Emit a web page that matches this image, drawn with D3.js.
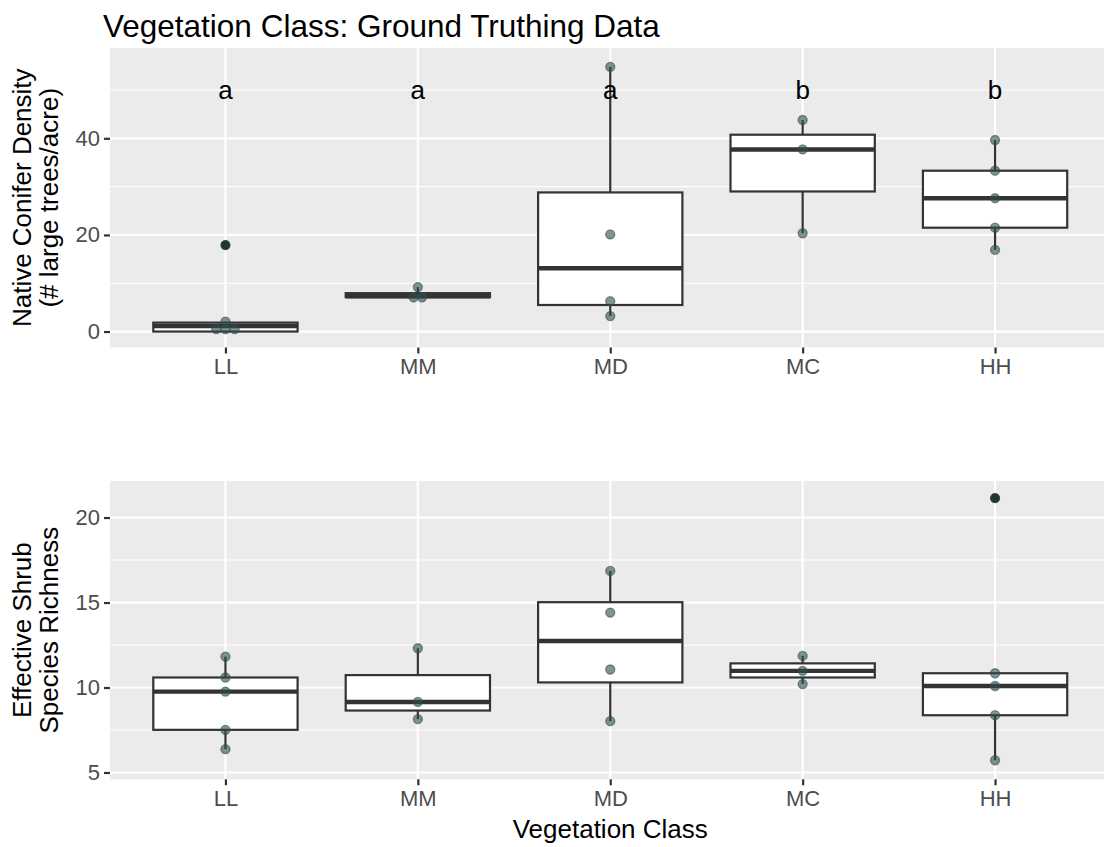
<!DOCTYPE html>
<html>
<head>
<meta charset="utf-8">
<script src="https://cdn.jsdelivr.net/npm/d3@7"></script>
<style>
  body { margin: 0; background: #fff; }
  text { font-family: "Liberation Sans", Arial, sans-serif; }
</style>
</head>
<body>
<div id="chart"></div>
<script>
// categories + significance letters
const classes = ["LL", "MM", "MD", "MC", "HH"];
const letters = ["a", "a", "a", "b", "b"];
const letterValue = 50;

// top panel: native conifer density (points as plotted, box stats per class)
const coniferPoints = [
  [17.9, 2.07, 0.5, 0.5, 0.5],
  [9.2, 7.1, 7.1],
  [54.8, 20.1, 6.3, 3.2],
  [43.8, 37.7, 20.35],
  [39.65, 33.3, 27.6, 21.5, 16.9]
];
const coniferDodge = [[0, 0, -0.048, 0, 0.048], [0, -0.022, 0.022], [0, 0, 0, 0], [0, 0, 0], [0, 0, 0, 0, 0]];
const coniferQ1 = [0, 7.13, 5.5, 29.0, 21.5];
const coniferMedian = [1.15, 7.3, 13.1, 37.7, 27.6];
const coniferQ3 = [1.85, 7.95, 28.8, 40.75, 33.3];
const coniferLow = [0, 7.1, 3.2, 20.35, 16.9];
const coniferHigh = [2.07, 9.2, 54.8, 43.8, 39.65];
const coniferTicks = [0, 20, 40];
const coniferMinor = [10, 30, 50];

// bottom panel: effective shrub species richness
const shrubPoints = [
  [11.82, 10.59, 9.76, 7.51, 6.37],
  [12.31, 9.15, 8.14],
  [16.86, 14.41, 11.06, 8.02],
  [11.86, 10.98, 10.2],
  [21.14, 10.84, 10.09, 8.37, 5.72]
];
const shrubDodge = [[0, 0, 0, 0, 0], [0, 0, 0], [0, 0, 0, 0], [0, 0, 0], [0, 0, 0, 0, 0]];
const shrubQ1 = [7.51, 8.645, 10.3, 10.59, 8.37];
const shrubMedian = [9.76, 9.15, 12.74, 10.98, 10.09];
const shrubQ3 = [10.59, 10.73, 15.02, 11.42, 10.84];
const shrubLow = [6.37, 8.14, 8.02, 10.2, 5.72];
const shrubHigh = [11.82, 12.31, 16.86, 11.86, 10.84];
const shrubTicks = [5, 10, 15, 20];
const shrubMinor = [7.5, 12.5, 17.5];

const width = 1104, height = 847;
const left = 110, right = 1110.5;

const svg = d3.select("#chart").append("svg")
  .attr("width", width)
  .attr("height", height);

svg.append("text")
  .attr("x", 103).attr("y", 37)
  .style("font-size", "31.5px")
  .text("Vegetation Class: Ground Truthing Data");

const x = d3.scalePoint().domain(classes).range([left, right]).padding(0.6);
const step = x.step();

const panels = [
  {
    top: 48, bottom: 347.5, domain: [-3.3, 58.7],
    ticks: coniferTicks, minor: coniferMinor,
    points: coniferPoints, dodge: coniferDodge,
    q1: coniferQ1, med: coniferMedian, q3: coniferQ3, lo: coniferLow, hi: coniferHigh,
    title: ["Native Conifer Density", "(# large trees/acre)"],
    letters: true, xTitle: false
  },
  {
    top: 481, bottom: 779.3, domain: [4.6, 22.15],
    ticks: shrubTicks, minor: shrubMinor,
    points: shrubPoints, dodge: shrubDodge,
    q1: shrubQ1, med: shrubMedian, q3: shrubQ3, lo: shrubLow, hi: shrubHigh,
    title: ["Effective Shrub", "Species Richness"],
    letters: false, xTitle: true
  }
];

panels.forEach(p => {
  const y = d3.scaleLinear().domain(p.domain).range([p.bottom, p.top]);
  const g = svg.append("g");

  // panel background + grid
  g.append("rect")
    .attr("x", left).attr("y", p.top)
    .attr("width", right - left).attr("height", p.bottom - p.top)
    .attr("fill", "#EBEBEB");

  g.selectAll(".minor").data(p.minor).join("line")
    .attr("x1", left).attr("x2", right)
    .attr("y1", d => y(d)).attr("y2", d => y(d))
    .attr("stroke", "#fff").attr("stroke-width", 1.1);

  g.selectAll(".major").data(p.ticks).join("line")
    .attr("x1", left).attr("x2", right)
    .attr("y1", d => y(d)).attr("y2", d => y(d))
    .attr("stroke", "#fff").attr("stroke-width", 2.2);

  g.selectAll(".vgrid").data(classes).join("line")
    .attr("x1", d => x(d)).attr("x2", d => x(d))
    .attr("y1", p.top).attr("y2", p.bottom)
    .attr("stroke", "#fff").attr("stroke-width", 2.2);

  // axes
  const yAxis = g.append("g")
    .attr("transform", `translate(${left},0)`)
    .call(d3.axisLeft(y).tickValues(p.ticks).tickSize(6).tickPadding(4));
  const xAxis = g.append("g")
    .attr("transform", `translate(0,${p.bottom})`)
    .call(d3.axisBottom(x).tickSize(6).tickPadding(5));
  [yAxis, xAxis].forEach(a => {
    a.select(".domain").remove();
    a.selectAll(".tick line").attr("stroke", "#333").attr("stroke-width", 2.2);
    a.selectAll(".tick text")
      .attr("fill", "#4D4D4D")
      .style("font-size", "22px")
      .style("font-family", "'Liberation Sans', Arial, sans-serif");
  });

  // boxplots
  const boxW = step * 0.75;
  const idx = d3.range(classes.length);
  const bx = g.append("g");

  bx.selectAll(".wup").data(idx).join("line")
    .attr("x1", i => x(classes[i])).attr("x2", i => x(classes[i]))
    .attr("y1", i => y(p.q3[i])).attr("y2", i => y(p.hi[i]))
    .attr("stroke", "#333").attr("stroke-width", 2.2);
  bx.selectAll(".wdn").data(idx).join("line")
    .attr("x1", i => x(classes[i])).attr("x2", i => x(classes[i]))
    .attr("y1", i => y(p.q1[i])).attr("y2", i => y(p.lo[i]))
    .attr("stroke", "#333").attr("stroke-width", 2.2);
  bx.selectAll(".box").data(idx).join("rect")
    .attr("x", i => x(classes[i]) - boxW / 2)
    .attr("y", i => y(p.q3[i]))
    .attr("width", boxW)
    .attr("height", i => y(p.q1[i]) - y(p.q3[i]))
    .attr("fill", "#fff").attr("stroke", "#333").attr("stroke-width", 2.2);
  bx.selectAll(".med").data(idx).join("line")
    .attr("x1", i => x(classes[i]) - boxW / 2).attr("x2", i => x(classes[i]) + boxW / 2)
    .attr("y1", i => y(p.med[i])).attr("y2", i => y(p.med[i]))
    .attr("stroke", "#333").attr("stroke-width", 4.4);

  // outliers (beyond whiskers) drawn black underneath the points
  const pts = [];
  p.points.forEach((vals, i) => vals.forEach((v, j) => pts.push({
    cls: classes[i], v, dx: p.dodge[i][j], out: v > p.hi[i] || v < p.lo[i]
  })));

  g.selectAll(".outlier").data(pts.filter(d => d.out)).join("circle")
    .attr("cx", d => x(d.cls))
    .attr("cy", d => y(d.v))
    .attr("r", 4.8)
    .attr("fill", "#111");

  g.selectAll(".pt").data(pts).join("circle")
    .attr("cx", d => x(d.cls) + d.dx * step)
    .attr("cy", d => y(d.v))
    .attr("r", 4.5)
    .attr("fill", "darkslategray").attr("fill-opacity", 0.6)
    .attr("stroke", "darkslategray").attr("stroke-opacity", 0.6)
    .attr("stroke-width", 1.3);

  if (p.letters) {
    g.selectAll(".letter").data(idx).join("text")
      .attr("x", i => x(classes[i]))
      .attr("y", y(letterValue))
      .attr("dy", "0.35em")
      .attr("text-anchor", "middle")
      .style("font-size", "26px")
      .text(i => letters[i]);
  }

  // y title (two lines)
  const cy = (p.top + p.bottom) / 2;
  p.title.forEach((t, k) => {
    svg.append("text")
      .attr("transform", `translate(${31 + k * 27},${cy}) rotate(-90)`)
      .attr("text-anchor", "middle")
      .style("font-size", "26px")
      .text(t);
  });

  if (p.xTitle) {
    svg.append("text")
      .attr("x", (left + right) / 2).attr("y", 838)
      .attr("text-anchor", "middle")
      .style("font-size", "26px")
      .text("Vegetation Class");
  }
});
</script>
</body>
</html>
